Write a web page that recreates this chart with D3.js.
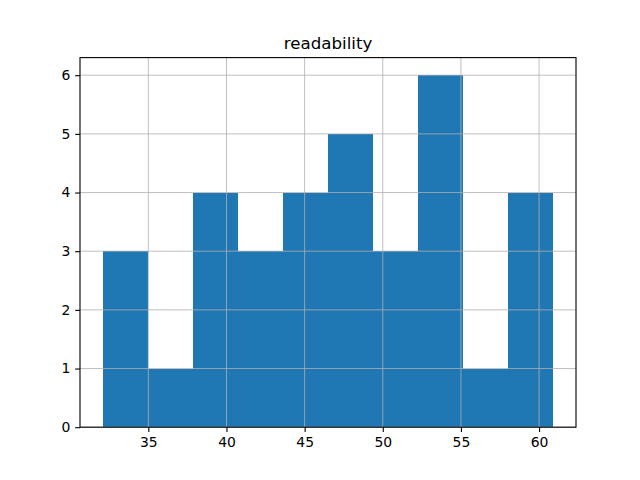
<!DOCTYPE html>
<html><head><meta charset="utf-8">
<script src="https://cdn.jsdelivr.net/npm/d3@7"></script>
<style>body{margin:0;background:#fff}svg{display:block}text{font-family:"DejaVu Sans",sans-serif}</style>
</head><body>
<svg id="c" width="640" height="480"></svg>
<script>
const title = "readability";
const binEdges = [32.07, 34.955, 37.84, 40.725, 43.61, 46.495, 49.38, 52.265, 55.15, 58.035, 60.92];
const counts = [3, 1, 4, 3, 4, 5, 3, 6, 1, 4];
const xTicks = [35, 40, 45, 50, 55, 60];
const yTicks = [0, 1, 2, 3, 4, 5, 6];

const W = 640, H = 480;
const L = 80, R = 576, T = 57.6, B = 427.2;
const svg = d3.select("#c");
svg.append("rect").attr("width", W).attr("height", H).attr("fill", "#fff");

const span = binEdges[binEdges.length-1] - binEdges[0];
const x = d3.scaleLinear().domain([binEdges[0] - span*0.05, binEdges[binEdges.length-1] + span*0.05]).range([L, R]);
const ymax = d3.max(counts) * 1.05;
const y = d3.scaleLinear().domain([0, ymax]).range([B, T]);

const bins = counts.map((c, i) => ({x0: binEdges[i], x1: binEdges[i+1], c}));
svg.append("g").selectAll("rect").data(bins).join("rect")
  .attr("x", d => x(d.x0)).attr("width", d => x(d.x1) - x(d.x0))
  .attr("y", d => y(d.c)).attr("height", d => y(0) - y(d.c))
  .attr("fill", "#1f77b4").attr("shape-rendering", "crispEdges");

// grid
const g = svg.append("g").attr("stroke", "#b0b0b0").attr("stroke-width", 0.8);
g.selectAll(".gx").data(xTicks).join("line")
  .attr("x1", d => x(d)).attr("x2", d => x(d)).attr("y1", T).attr("y2", B);
g.selectAll(".gy").data(yTicks).join("line")
  .attr("y1", d => y(d)).attr("y2", d => y(d)).attr("x1", L).attr("x2", R);

// axes
const fs = 13.9;
const xAxis = d3.axisBottom(x).tickValues(xTicks).tickSize(4.86).tickPadding(4.86).tickFormat(d3.format("d"));
const yAxis = d3.axisLeft(y).tickValues(yTicks).tickSize(4.86).tickPadding(4.86).tickFormat(d3.format("d"));
const gx = svg.append("g").attr("transform", `translate(0,${B})`).call(xAxis);
const gy = svg.append("g").attr("transform", `translate(${L},0)`).call(yAxis);
[gx, gy].forEach(a => {
  a.select(".domain").remove();
  a.selectAll(".tick line").attr("stroke", "#000").attr("stroke-width", 1.1);
  a.selectAll(".tick text").attr("fill", "#000").attr("font-size", fs).attr("font-family", "DejaVu Sans");
});

// spines
svg.append("rect").attr("x", L).attr("y", T).attr("width", R - L).attr("height", B - T)
  .attr("fill", "none").attr("stroke", "#000").attr("stroke-width", 1.1);

svg.append("text").attr("x", (L + R) / 2).attr("y", T - 8.33)
  .attr("text-anchor", "middle").attr("font-size", 16.67).attr("fill", "#000").text(title);
</script>
</body></html>
